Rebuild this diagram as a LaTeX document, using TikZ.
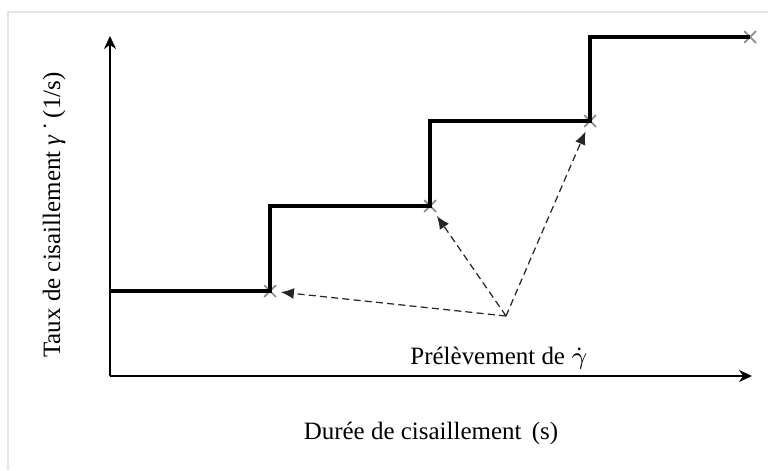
\documentclass[tikz,border=0pt]{standalone}
\usepackage{fontspec}
\setmainfont{Liberation Serif}
\usetikzlibrary{arrows.meta, calc, shapes.misc}

\begin{document}
\begin{tikzpicture}[x=0.01cm, y=-0.01cm, >={Stealth[length=1.3mm, width=1.2mm]}, every node/.style={font=\fontsize{7.1}{9}\selectfont},
    axis/.style={->, line width=0.6pt},
    stairs/.style={line width=0.9pt},
    sample/.style={draw=black!45, cross out, line width=0.5pt, minimum size=1mm, inner sep=0pt},
    pick/.style={-{Latex[length=1.3mm, width=1.1mm]}, black!85, line width=0.35pt, dash pattern=on 2pt off 1.2pt, shorten >=0.5mm}]
  \useasboundingbox (0,0) rectangle (768,470);
  \draw[black!10] (8,470) -- (8,12) -- (768,12);
  \coordinate (origin) at (110,376);
  \coordinate (xend) at (752,376);
  \coordinate (yend) at (110,36);
  \draw[axis] (origin) -- (xend);
  \draw[axis] (origin) -- (yend);
  % points de prelevement
  \node[sample] (s1) at (270,291) {};
  \node[sample] (s2) at (430,206) {};
  \node[sample] (s3) at (590,121) {};
  \node[sample] (s4) at (750,37) {};
  \draw[stairs] (origin |- s1) -- (s1.center) |- (s2.center) |- (s3.center) |- (s4.center);
  \node (ylabel) at (54,215) [rotate=90] {Taux de cisaillement \textit{γ}\,˙\,(1/s)};
  \node (xlabel) at (431,433) {Durée de cisaillement\, (s)};
  \node (picklabel) at (499,358) {Prélèvement de $\dot{\gamma}$};
  \coordinate (src) at (506,316);
  \draw[pick] (src) -- (s1);
  \draw[pick] (src) -- (s2);
  \draw[pick] (src) -- (s3);
\end{tikzpicture}
\end{document}
